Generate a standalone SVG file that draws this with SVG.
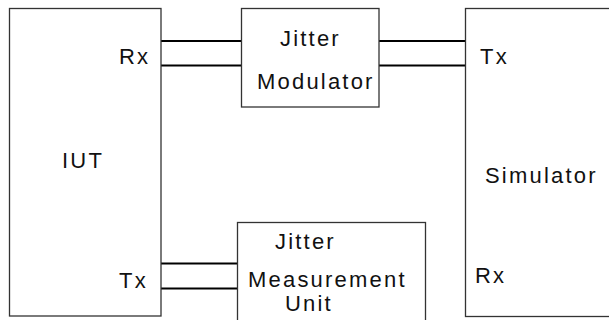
<svg xmlns="http://www.w3.org/2000/svg" width="609" height="320" viewBox="0 0 609 320">
<style>
.box{fill:#fff;stroke:#333;stroke-width:1.3}
.ln{stroke:#000;stroke-width:2;fill:none}
.t{font-family:"Liberation Sans",Arial,sans-serif;font-size:22px;letter-spacing:2.2px;fill:#111}
</style>
<rect width="609" height="320" fill="#fff"/>
<g id="connectors">
<line class="ln" x1="161" y1="41" x2="241" y2="41"/>
<line class="ln" x1="161" y1="65.5" x2="241" y2="65.5"/>
<line class="ln" x1="379" y1="41" x2="465" y2="41"/>
<line class="ln" x1="379" y1="65.5" x2="465" y2="65.5"/>
<line class="ln" x1="161" y1="263.5" x2="237" y2="263.5"/>
<line class="ln" x1="161" y1="288.5" x2="237" y2="288.5"/>
</g>
<g id="iut">
<rect class="box" x="9.5" y="8.5" width="151.5" height="307.5"/>
<text class="t" x="62" y="168">IUT</text>
<text class="t" x="119" y="64">Rx</text>
<text class="t" x="119" y="288">Tx</text>
</g>
<g id="jitter-modulator">
<rect class="box" x="241.5" y="8.5" width="137.5" height="98.5"/>
<text class="t" x="280" y="46">Jitter</text>
<text class="t" x="257" y="89">Modulator</text>
</g>
<g id="simulator">
<rect class="box" x="465.5" y="8.5" width="150" height="308"/>
<text class="t" x="480" y="64">Tx</text>
<text class="t" x="485" y="183">Simulator</text>
<text class="t" x="475" y="283">Rx</text>
</g>
<g id="jitter-measurement-unit">
<rect class="box" x="237.5" y="222.5" width="188" height="105"/>
<text class="t" x="275" y="249">Jitter</text>
<text class="t" x="248" y="287">Measurement</text>
<text class="t" x="285" y="311">Unit</text>
</g>
</svg>
